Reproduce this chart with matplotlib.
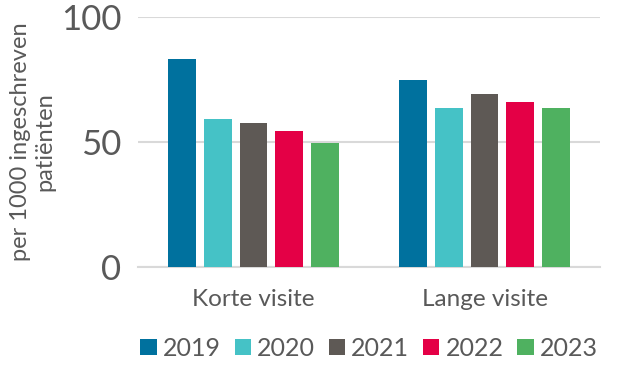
import matplotlib.pyplot as plt
import numpy as np

plt.rcParams['font.family'] = ['Lato', 'DejaVu Sans']

categories = ['Korte visite', 'Lange visite']
years = ['2019', '2020', '2021', '2022', '2023']
values = {
    '2019': [83.2, 74.8],
    '2020': [59.2, 63.6],
    '2021': [57.6, 69.2],
    '2022': [54.5, 66.0],
    '2023': [49.6, 63.6],
}
colors = ['#00719E', '#45C2C6', '#5E5955', '#E40046', '#4FB160']

grey = '#595959'

fig = plt.figure(figsize=(6.29, 3.76), dpi=100)
ax = fig.add_axes([138/629, 1-267/376, 462/629, 250/376])

x = np.arange(len(categories))
step = 0.154
bw = 0.121
for i, y in enumerate(years):
    ax.bar(x + (i-2)*step, values[y], width=bw, color=colors[i], label=y, zorder=3)

ax.set_xlim(-0.5, 1.5)
ax.set_ylim(0, 100)
ax.set_yticks([0, 50, 100])
ax.yaxis.grid(True, color='#d9d9d9', linewidth=1.5, zorder=0)
ax.set_axisbelow(True)
for s in ['top', 'right', 'left']:
    ax.spines[s].set_visible(False)
ax.spines['bottom'].set_color('#d9d9d9')
ax.spines['bottom'].set_linewidth(1.5)
ax.tick_params(axis='both', length=0, colors=grey)
ax.tick_params(axis='y', labelsize=25, pad=12)
ax.tick_params(axis='x', labelsize=17.5, pad=16)
ax.set_xticks(x)
ax.set_xticklabels(categories)
ax.set_ylabel('per 1000 ingeschreven\npatiënten', fontsize=17, color=grey, labelpad=4)

ax.legend(loc='center', bbox_to_anchor=(0.5, -0.325), ncol=5, frameon=False,
          fontsize=18, labelcolor=grey, handlelength=0.65, handleheight=0.65,
          handletextpad=0.25, columnspacing=0.55, borderpad=0)

fig.savefig('out.png', dpi=100)
